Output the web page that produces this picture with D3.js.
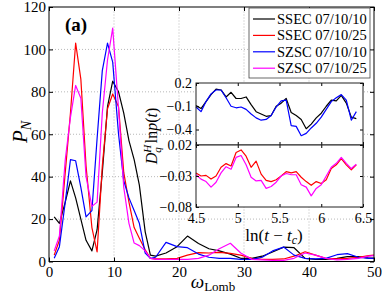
<!DOCTYPE html>
<html>
<head>
<meta charset="utf-8">
<script src="https://cdn.jsdelivr.net/npm/d3@7"></script>
<style>
body { margin: 0; background: #fff; }
svg { display: block; }
text { font-family: "Liberation Serif", "Times New Roman", serif; fill: #000; }
</style>
</head>
<body>
<script>
// Lomb periodogram values
var omega = [0.8,1.6,2.5,3.3,4.1,4.9,5.7,6.6,7.4,8.2,9.0,9.8,10.7,11.5,12.3,13.1,13.9,14.8,15.6,
  16.4,18.0,19.7,21.3,23.0,24.6,26.2,27.9,29.5,31.2,32.8,34.4,36.1,37.7,39.4,41.0,42.6,44.3,45.9,47.6,49.2,50.0];

var ssec1010 = [21,18,28,38,30,20,10,5,15,42,73,85,80,70,57,48,36,14,3,
  2.5,4,7,12,8.5,6,5,3.5,1.5,1.5,2.5,4.5,6.8,6.5,1.5,1,1,1.5,2.3,2.3,1.6,1.6];
var ssec1025 = [3,10,42,70,103,86,45,16,4.5,45,72,79,73,42,28,16,11,5.5,1.5,
  1.2,1.2,1.5,3,4.2,4,4.3,3.8,3,1.5,1,1,1.2,2.5,4.6,3,1.5,1.2,1.5,2,2.8,3];
var szsc1010 = [1.5,7,28,48,47.5,35,21,24,58,90,103,94,60,38,30,24,18,4,1.5,
  2,9,7,6.5,3.5,2,1.5,1.5,1,1,2,5,6.8,3,1.5,1.2,1.5,3.2,3.7,2,1.5,1.5];
var szsc1025 = [5,12,48,68,83,77,40,26,28,70,95,110,72,35,18,8.7,7.5,5,1.5,
  1,1,1,1,1.5,3,6,8.6,4,1,0.8,0.5,0.5,1.5,4,3,1.5,0.8,1,1.5,2.5,2.8];

// inset: D_q^H ln p(t) against ln(t - tc)
var lnT = [4.50,4.56,4.62,4.68,4.74,4.80,4.86,4.92,4.98,5.04,5.10,5.16,5.22,5.28,5.34,5.40,5.46,
  5.52,5.58,5.64,5.70,5.76,5.82,5.88,5.94,6.00,6.06,6.12,6.18,6.24,6.30,6.36,6.42];
var insSsec1010 = [-0.09,-0.13,-0.04,0.05,0.12,0.11,0.02,0.08,0.0,0.0,0.02,-0.08,-0.17,-0.20,-0.23,-0.22,-0.10,
  -0.06,0.0,-0.18,-0.22,-0.27,-0.39,-0.33,-0.25,-0.19,-0.10,-0.02,-0.03,0.04,-0.06,-0.24,-0.26];
var insSzsc1010 = [-0.11,-0.17,-0.04,0.06,0.11,0.11,0.01,-0.10,-0.12,-0.11,-0.14,-0.20,-0.25,-0.28,-0.27,-0.22,-0.11,
  -0.03,-0.02,-0.35,-0.36,-0.48,-0.45,-0.38,-0.32,-0.24,-0.14,-0.04,0.01,0.05,-0.02,-0.28,-0.17];
var insSsec1025 = [-0.025,-0.030,-0.029,-0.035,-0.030,-0.016,-0.010,-0.014,0.008,0.012,0.002,-0.016,-0.006,-0.027,-0.037,-0.039,-0.036,
  -0.030,-0.023,-0.025,-0.023,-0.032,-0.039,-0.045,-0.039,-0.042,-0.036,-0.018,-0.012,-0.002,-0.012,-0.020,-0.012];
var insSzsc1025 = [-0.028,-0.035,-0.039,-0.048,-0.040,-0.025,-0.015,-0.019,0.0,0.003,-0.012,-0.032,-0.038,-0.037,-0.050,-0.047,-0.040,
  -0.030,-0.026,-0.028,-0.028,-0.044,-0.048,-0.062,-0.050,-0.044,-0.030,-0.016,-0.0095,0.0,-0.0095,-0.018,-0.011];

var legendNames = ["SSEC 07/10/10", "SSEC 07/10/25", "SZSC 07/10/10", "SZSC 07/10/25"];
var colors = ["#000000", "#ff0000", "#0000ff", "#ff00ff"];

var xTicks = [0, 10, 20, 30, 40, 50];
var yTicks = [0, 20, 40, 60, 80, 100, 120];
var insXTicks = [4.5, 5, 5.5, 6, 6.5];
var insY1Ticks = [0.2, -0.1, -0.4];
var insY2Ticks = [0.02, -0.03, -0.08];

var width = 382, height = 295;
var serif = "'Liberation Serif', 'Times New Roman', serif";

var svg = d3.select("body").append("svg")
    .attr("width", width)
    .attr("height", height);

var x = d3.scaleLinear().domain([0, 50]).range([49, 374]),
    y = d3.scaleLinear().domain([0, 120]).range([261.5, 7]);

// dotted grid
var grid = svg.append("g").attr("stroke", "#9a9a9a").attr("stroke-width", 0.7).attr("stroke-dasharray", "1,2");
grid.selectAll(".gx").data(xTicks.slice(1, -1)).enter().append("line")
    .attr("x1", function(d) { return x(d); }).attr("x2", function(d) { return x(d); })
    .attr("y1", y(0)).attr("y2", y(120));
grid.selectAll(".gy").data(yTicks.slice(1, -1)).enter().append("line")
    .attr("x1", x(0)).attr("x2", x(50))
    .attr("y1", function(d) { return y(d); }).attr("y2", function(d) { return y(d); });

// main curves
var series = [ssec1010, ssec1025, szsc1010, szsc1025];
var line = d3.line()
    .x(function(d, i) { return x(omega[i]); })
    .y(function(d) { return y(d); });

svg.selectAll(".curve").data(series).enter().append("path")
    .attr("class", "curve")
    .attr("fill", "none")
    .attr("stroke", function(d, i) { return colors[i]; })
    .attr("stroke-width", 1.2)
    .attr("stroke-linejoin", "round")
    .attr("d", line);

// axes, MATLAB style ticks pointing inward
function styleAxis(g, size) {
  g.select(".domain").remove();
  g.selectAll(".tick line").attr("stroke", "#000");
  g.selectAll(".tick text").attr("font-size", size).attr("fill", "#000")
    .style("font-family", serif);
}

svg.append("g")
    .attr("transform", "translate(0," + y(0) + ")")
    .call(d3.axisBottom(x).tickValues(xTicks).tickSizeInner(-4).tickSizeOuter(0).tickPadding(5))
    .call(styleAxis, 15);
svg.append("g")
    .attr("transform", "translate(0," + y(120) + ")")
    .call(d3.axisTop(x).tickValues(xTicks).tickSizeInner(-4).tickSizeOuter(0).tickFormat(""))
    .call(styleAxis, 15);
svg.append("g")
    .attr("transform", "translate(" + x(0) + ",0)")
    .call(d3.axisLeft(y).tickValues(yTicks).tickSizeInner(-4).tickSizeOuter(0).tickPadding(3))
    .call(styleAxis, 15);
svg.append("g")
    .attr("transform", "translate(" + x(50) + ",0)")
    .call(d3.axisRight(y).tickValues(yTicks).tickSizeInner(-4).tickSizeOuter(0).tickFormat(""))
    .call(styleAxis, 15);

svg.append("rect")
    .attr("x", x(0)).attr("y", y(120))
    .attr("width", x(50) - x(0)).attr("height", y(0) - y(120))
    .attr("fill", "none").attr("stroke", "#000").attr("stroke-width", 1);

// axis labels
var xl = svg.append("text").attr("x", 213).attr("y", 288).attr("text-anchor", "middle");
xl.append("tspan").attr("font-size", 19).attr("font-style", "italic").text("ω");
xl.append("tspan").attr("font-size", 13).attr("dy", 3).text("Lomb");

var yl = svg.append("text").attr("transform", "translate(27,132) rotate(-90)").attr("text-anchor", "middle");
yl.append("tspan").attr("font-size", 21).attr("font-style", "italic").text("P");
yl.append("tspan").attr("font-size", 14).attr("font-style", "italic").attr("dy", 4).text("N");

svg.append("text")
    .attr("x", 65).attr("y", 31)
    .style("font-family", serif)
    .attr("font-size", 19).attr("font-weight", "bold")
    .text("(a)");

// ---- inset ----
var xi = d3.scaleLinear().domain([4.5, 6.5]).range([196, 363]),
    yi1 = d3.scaleLinear().domain([-0.6, 0.2]).range([145, 83]),
    yi2 = d3.scaleLinear().domain([-0.08, 0.02]).range([207, 145]);

var panels = [
  {ys: yi1, ticks: insY1Ticks, data: [insSsec1010, insSzsc1010], cols: [colors[0], colors[2]], labels: false},
  {ys: yi2, ticks: insY2Ticks, data: [insSsec1025, insSzsc1025], cols: [colors[1], colors[3]], labels: true}
];

panels.forEach(function(p) {
  var r = p.ys.range();
  var g = svg.append("g");
  g.append("rect")
    .attr("x", xi(4.5)).attr("y", r[1])
    .attr("width", xi(6.5) - xi(4.5)).attr("height", r[0] - r[1])
    .attr("fill", "#fff");

  var ln = d3.line()
    .x(function(d, i) { return xi(lnT[i]); })
    .y(function(d) { return p.ys(d); });
  g.selectAll(".ins").data(p.data).enter().append("path")
    .attr("fill", "none")
    .attr("stroke", function(d, i) { return p.cols[i]; })
    .attr("stroke-width", 1.2)
    .attr("stroke-linejoin", "round")
    .attr("d", ln);

  g.append("g").attr("transform", "translate(0," + r[0] + ")")
    .call(d3.axisBottom(xi).tickValues(insXTicks).tickSizeInner(-3).tickSizeOuter(0).tickPadding(6)
      .tickFormat(p.labels ? d3.format("") : ""))
    .call(styleAxis, 14);
  g.append("g").attr("transform", "translate(0," + r[1] + ")")
    .call(d3.axisTop(xi).tickValues(insXTicks).tickSizeInner(-3).tickSizeOuter(0).tickFormat(""))
    .call(styleAxis, 14);
  g.append("g").attr("transform", "translate(" + xi(4.5) + ",0)")
    .call(d3.axisLeft(p.ys).tickValues(p.ticks).tickSizeInner(-3).tickSizeOuter(0).tickPadding(4)
      .tickFormat(function(d) { return d3.format("")(d).replace("-", "\u2212"); }))
    .call(styleAxis, 14);
  g.append("g").attr("transform", "translate(" + xi(6.5) + ",0)")
    .call(d3.axisRight(p.ys).tickValues(p.ticks).tickSizeInner(-3).tickSizeOuter(0).tickFormat(""))
    .call(styleAxis, 14);

  g.append("rect")
    .attr("x", xi(4.5)).attr("y", r[1])
    .attr("width", xi(6.5) - xi(4.5)).attr("height", r[0] - r[1])
    .attr("fill", "none").attr("stroke", "#222").attr("stroke-width", 1);
});

var il = svg.append("text").attr("x", 274).attr("y", 241).attr("text-anchor", "middle").attr("font-size", 17);
il.append("tspan").text("ln(");
il.append("tspan").attr("font-style", "italic").text("t");
il.append("tspan").text(" \u2212 ");
il.append("tspan").attr("font-style", "italic").text("t");
il.append("tspan").attr("font-style", "italic").attr("font-size", 12).attr("dy", 3).text("c");
il.append("tspan").attr("dy", -3).text(")");

var iy = svg.append("text").attr("transform", "translate(157,136) rotate(-90)")
    .attr("text-anchor", "middle").attr("font-size", 16);
iy.append("tspan").attr("font-style", "italic").text("D");
iy.append("tspan").attr("font-style", "italic").attr("font-size", 11).attr("dy", -6).text("H");
iy.append("tspan").attr("font-style", "italic").attr("font-size", 11).attr("dx", -8).attr("dy", 10).text("q");
iy.append("tspan").attr("dy", -4).text(" ln");
iy.append("tspan").attr("font-style", "italic").text("p");
iy.append("tspan").text("(");
iy.append("tspan").attr("font-style", "italic").text("t");
iy.append("tspan").text(")");

// ---- legend ----
var lg = svg.append("g");
lg.append("rect")
    .attr("x", 249).attr("y", 8).attr("width", 121).attr("height", 70)
    .attr("fill", "#fff").attr("stroke", "#444").attr("stroke-width", 0.8);
var item = lg.selectAll(".item").data(legendNames).enter().append("g")
    .attr("transform", function(d, i) { return "translate(0," + (19 + i * 16.4) + ")"; });
item.append("line")
    .attr("x1", 253).attr("x2", 275)
    .attr("stroke", function(d, i) { return colors[i]; })
    .attr("stroke-width", 1.2);
item.append("text")
    .attr("x", 277).attr("dy", "0.33em")
    .attr("font-size", 14.5)
    .text(function(d) { return d; });
</script>
</body>
</html>
